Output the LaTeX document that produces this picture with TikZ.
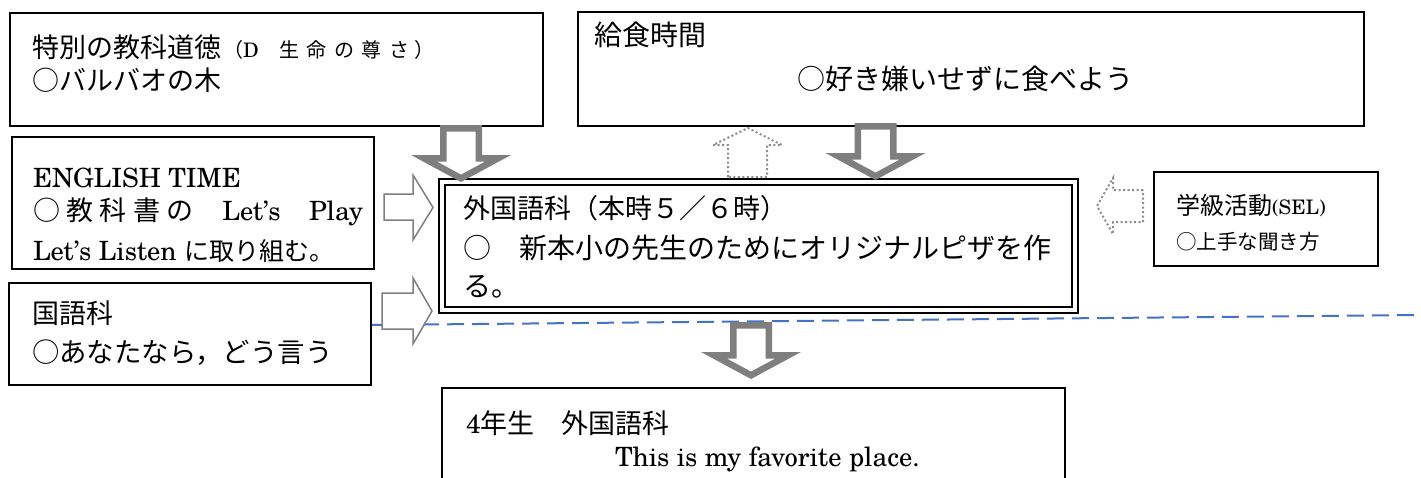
\documentclass[tikz,border=0pt]{standalone}
\usepackage{fontspec}
\newfontfamily\jp{Noto Sans CJK JP}
\newfontfamily\lat{TeX Gyre Schola}
\newcommand\fs[1]{\fontsize{#1}{#1}\selectfont}
\definecolor{arrowgray}{RGB}{127,127,127}
\definecolor{dotgray}{RGB}{140,140,140}
\definecolor{dashblue}{RGB}{68,114,196}
\begin{document}
\begin{tikzpicture}[x=1pt,y=-1pt,
  box/.style={draw=black,line width=1.5pt,fill=white,inner sep=0pt,outer sep=0pt,anchor=north west},
  txt/.style={inner sep=0pt,outer sep=0pt,anchor=base west},
  hollow/.style={draw=arrowgray,line width=1.5pt,fill=white,line join=miter},
  dotarrow/.style={draw=dotgray,line width=2pt,dash pattern=on 2pt off 2.5pt,fill=white},
  dashline/.style={draw=dashblue,line width=2pt,dash pattern=on 17pt off 8pt},
  graydown/.pic={\fill[arrowgray,even odd rule]
     (-21,0) -- (21,0) -- (21,30) -- (50,30) -- (0,57) -- (-50,30) -- (-21,30) -- cycle
     (-14.5,6.5) -- (14.5,6.5) -- (14.5,36.5) -- (24.3,36.5) -- (0,49.6) -- (-24.3,36.5) -- (-14.5,36.5) -- cycle;}
]
\useasboundingbox (0,0) rectangle (1421,477);
\clip (0,0) rectangle (1421,477);
\fill[white] (0,0) rectangle (1421,477);

% dashed separator
\coordinate (dashL) at (372,325);
\coordinate (dashR) at (1421,315);
\draw[dashline] (dashL) -- (dashR);

% boxes
\node[box,minimum width=533pt,minimum height=113pt] (moral) at (10,13) {};
\node[box,minimum width=786pt,minimum height=114pt] (lunch) at (578,12) {};
\node[box,minimum width=362pt,minimum height=132pt] (english) at (12,137) {};
\node[box,minimum width=362pt,minimum height=102pt] (kokugo) at (9,283) {};
\node[box,double=white,double distance=4.5pt,minimum width=633pt,minimum height=128pt] (main) at (442,182) {};
\node[box,minimum width=224pt,minimum height=94pt] (sel) at (1154,172) {};
\node[box,minimum width=623pt,minimum height=120pt] (grade) at (442,388) {};

% thick gray down arrows
\pic (downA) at (461,125) {graydown};
\pic (downB) at (875.5,123) {graydown};
\pic (downC) at (751,322) {graydown};

% hollow right arrows
\draw[hollow] (384,194) -- (413,194) -- (413,175) -- (433,207.5) -- (413,240) -- (413,220) -- (384,220) -- cycle;
\draw[hollow] (382,293) -- (413,293) -- (413,278) -- (432,311) -- (413,344) -- (413,329) -- (382,329) -- cycle;

% dotted arrows
\draw[dotarrow] (728,177) -- (728,145) -- (713,145) -- (748,128) -- (782,145) -- (767,145) -- (767,177) -- cycle;
\draw[dotarrow] (1143,190) -- (1113,190) -- (1113,178) -- (1097,206) -- (1113,234) -- (1113,222) -- (1143,222) -- cycle;

% texts
\node[txt] (moral1) at (32,57) {\jp\fs{27}特別の教科道徳\hspace{2pt}{\fs{20}（{\lat D}\hspace{21pt}生\kern7.4pt命\kern7.4ptの\kern7.4pt尊\kern7.4ptさ\kern5pt）}};
\node[txt] (moral2) at (32,90) {\jp\fs{27}○バルバオの木};

\node[txt] (lunch1) at (594,45.5) {\jp\fs{28}給食時間};
\node[txt] (lunch2) at (797,89.5) {\jp\fs{28}○好き嫌いせずに食べよう};

\node[txt] (en1) at (33,187) {\lat\fs{26.5}ENGLISH TIME};
\node[txt] (en2) at (33,220) {\hbox to 330pt{\fs{27}\jp ○\hspace{6.5pt}教\hspace{6.5pt}科\hspace{6.5pt}書\hspace{6.5pt}の\hfill{\lat\fs{26.5}Let’s}\hfill{\lat\fs{26.5}Play}}};
\node[txt] (en3) at (33,260) {\lat\fs{26.5}Let’s Listen {\jp\fs{25}に取り組む。}};

\node[txt] (kokugo1) at (32,323) {\jp\fs{27}国語科};
\node[txt] (kokugo2) at (32,362) {\jp\fs{27.4}○あなたなら，どう言う};

\node[txt] (main1) at (463,218) {\jp\fs{27}外国語科（本時５／６時）};
\node[txt] (main2) at (463,258.6) {\jp\fs{28}○　新本小の先生のためにオリジナルピザを作};
\node[txt] (main3) at (463,296.6) {\jp\fs{28}る。};

\node[txt] (sel1) at (1176,214) {{\jp\fs{24}学級活動}{\lat\fs{20}(SEL)}};
\node[txt] (sel2) at (1176,249.8) {\jp\fs{20.5}○上手な聞き方};

\node[txt] (grade1) at (466,433) {\lat\fs{26.5}4{\jp\fs{27}年生　外国語科}};
\node[txt] (grade2) at (615,466) {\lat\fs{26.5}This is my favorite place.};
\end{tikzpicture}
\end{document}
